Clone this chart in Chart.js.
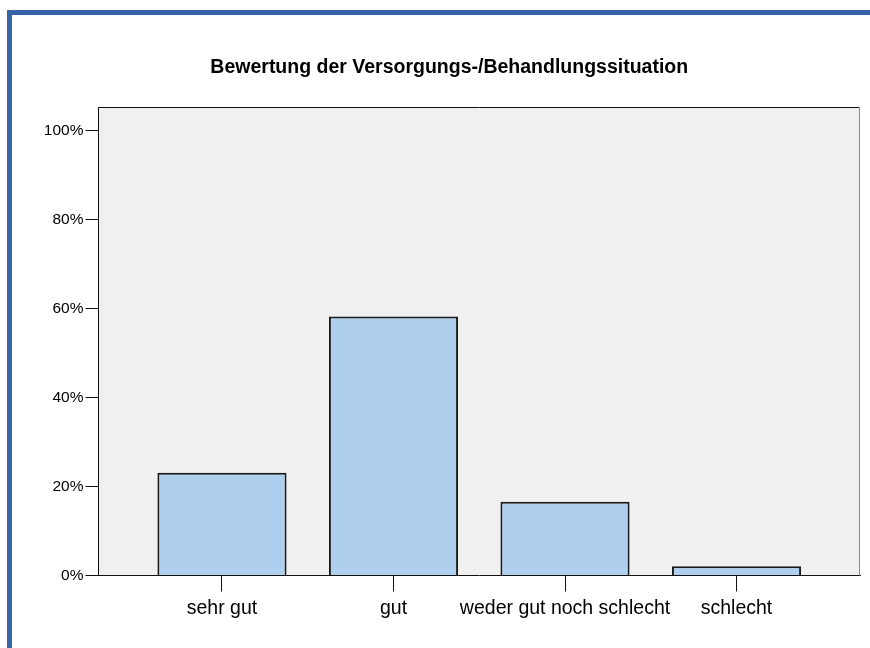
<!DOCTYPE html>
<html>
<head>
<meta charset="utf-8">
<script src="https://cdn.jsdelivr.net/npm/chart.js@4/dist/chart.umd.min.js"></script>
<style>
  html, body { margin: 0; padding: 0; background: #ffffff; }
  #wrap { position: relative; width: 870px; height: 648px; overflow: hidden; }
  #c { position: absolute; left: 0; top: 0; }
  .bl { position: absolute; left: 7px; top: 10px; width: 5px; height: 638px; background: #3764a8; }
  .bt { position: absolute; left: 7px; top: 10px; width: 863px; height: 5px; background: #3764a8; }
</style>
</head>
<body>
<div id="wrap">
  <canvas id="c" width="870" height="648"></canvas>
  <div class="bl"></div>
  <div class="bt"></div>
</div>
<script>
// Data
const categories = ['sehr gut', 'gut', 'weder gut noch schlecht', 'schlecht'];
const percentValues = [23.1, 58.2, 16.6, 2.1];
const yTickValues = [0, 20, 40, 60, 80, 100];
const chartTitle = 'Bewertung der Versorgungs-/Behandlungssituation';

const FONT = "'Liberation Sans', Arial, Helvetica, sans-serif";

const frame = {
  id: 'frame',
  beforeDraw(chart) {
    const { ctx, chartArea: a } = chart;
    ctx.save();
    ctx.fillStyle = '#f0f0f0';
    ctx.fillRect(a.left, a.top, a.right - a.left, a.bottom - a.top);
    ctx.restore();
  },
  afterDatasetsDraw(chart) {
    const { ctx, chartArea: a } = chart;
    ctx.save();
    ctx.lineWidth = 1;
    ctx.strokeStyle = '#111111';
    ctx.beginPath();
    ctx.moveTo(a.left, Math.round(a.top) + 0.5);
    ctx.lineTo(a.right, Math.round(a.top) + 0.5);
    ctx.stroke();
    ctx.strokeStyle = '#8c8c8c';
    ctx.beginPath();
    ctx.moveTo(Math.round(a.right) - 0.5, a.top);
    ctx.lineTo(Math.round(a.right) - 0.5, a.bottom);
    ctx.stroke();
    ctx.restore();
  }
};

new Chart(document.getElementById('c'), {
  type: 'bar',
  data: {
    datasets: [{
      data: percentValues.map((v, i) => ({ x: i, y: v })),
      backgroundColor: '#aed0ee',
      borderColor: '#1a1a1a',
      borderWidth: 2,
      categoryPercentage: 1,
      barPercentage: 0.753
    }]
  },
  options: {
    responsive: false,
    animation: false,
    devicePixelRatio: 1,
    layout: { padding: { left: 38.5, right: 10, top: 56, bottom: 22.5 } },
    plugins: {
      legend: { display: false },
      tooltip: { enabled: false },
      title: {
        display: true,
        text: chartTitle,
        color: '#000000',
        font: { family: FONT, size: 19.5, weight: 'bold' },
        padding: { top: 0, bottom: 27.6 }
      }
    },
    scales: {
      x: {
        type: 'linear',
        offset: false,
        min: -0.72,
        max: 3.72,
        afterFit(s) { s.height = 50; },
        afterBuildTicks(s) { s.ticks = categories.map((c, i) => ({ value: i })); },
        ticks: {
          includeBounds: false,
          stepSize: 1,
          padding: 5,
          color: '#000000',
          font: { family: FONT, size: 19.5 },
          maxRotation: 0,
          autoSkip: false,
          callback: (v) => categories[v]
        },
        grid: { offset: false, drawOnChartArea: false, drawTicks: true, tickLength: 16, color: '#111111', lineWidth: 1 },
        border: { display: true, color: '#111111', width: 1 }
      },
      y: {
        min: 0,
        max: 105.3,
        afterFit(s) { s.width = 60; },
        afterBuildTicks(s) { s.ticks = yTickValues.map(v => ({ value: v })); },
        ticks: {
          includeBounds: false,
          padding: 2,
          color: '#000000',
          font: { family: FONT, size: 15.5 },
          callback: (v) => v + '%'
        },
        grid: { drawOnChartArea: false, drawTicks: true, tickLength: 13, color: '#111111', lineWidth: 1 },
        border: { display: true, color: '#111111', width: 1 }
      }
    }
  },
  plugins: [frame]
});
</script>
</body>
</html>
